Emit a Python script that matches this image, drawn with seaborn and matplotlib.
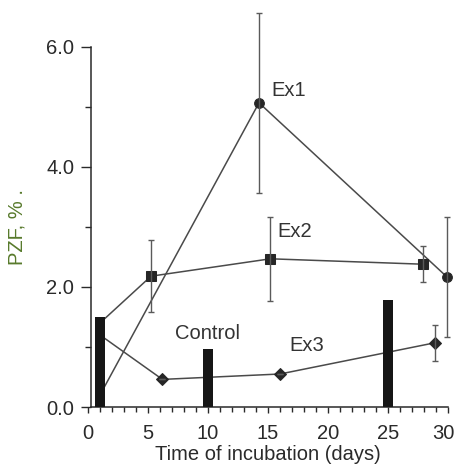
import numpy as np
import pandas as pd
import matplotlib
matplotlib.use("Agg")
import matplotlib.pyplot as plt
import matplotlib.transforms as mtransforms
from matplotlib.ticker import MultipleLocator
import seaborn as sns

# values
ex1_day = [1.0, 14.25, 29.9]
ex1_val = [0.2, 5.07, 2.17]
ex1_err = [0.0, 1.5, 1.0]

ex2_day = [1.0, 5.25, 15.2, 27.9]
ex2_val = [1.4, 2.18, 2.47, 2.38]
ex2_err = [0.0, 0.6, 0.7, 0.3]

ex3_day = [1.0, 6.2, 16.0, 28.9]
ex3_val = [1.2, 0.46, 0.55, 1.07]
ex3_err = [0.0, 0.0, 0.0, 0.3]

control_day = [1, 10, 25]
control_val = [1.5, 0.97, 1.78]

x_ticks = [0, 5, 10, 15, 20, 25, 30]
y_ticks = [0.0, 2.0, 4.0, 6.0]

sns.set_theme(style="ticks")
plt.rcParams['font.family'] = ['Liberation Sans', 'DejaVu Sans']

fig = plt.figure(figsize=(4.55, 4.69), dpi=100)
ax = fig.add_axes([88 / 455, 62 / 469, 360 / 455, 360 / 469])

line_col = '#4a4a4a'
series = [
    ('Ex1', ex1_day, ex1_val, ex1_err, 'o', 7.0),
    ('Ex2', ex2_day, ex2_val, ex2_err, 's', 7.5),
    ('Ex3', ex3_day, ex3_val, ex3_err, 'D', 6.5),
]
for name, d, v, e, mk, ms in series:
    df = pd.DataFrame({'day': d, 'pzf': v})
    # first point is hidden behind the day-1 control bar
    sns.lineplot(data=df, x='day', y='pzf', ax=ax, sort=False, estimator=None,
                 color=line_col, linewidth=1.1, marker=mk, markersize=ms,
                 markevery=list(range(1, len(d))),
                 markeredgecolor='#262626', markerfacecolor='#262626', clip_on=False)
    eb = ax.errorbar(d, v, yerr=e, fmt='none', ecolor='#5a5a5a', elinewidth=1.0,
                     capsize=2.5, capthick=1.0)
    for child in eb.get_children():
        child.set_clip_on(False)

sns.barplot(x=control_day, y=control_val, native_scale=True, width=0.1,
            color='#161616', saturation=1, errorbar=None, ax=ax)
for p in ax.patches:
    p.set_zorder(3)
    p.set_edgecolor('none')

ax.set_xlim(0, 30)
ax.set_ylim(0, 6)
ax.set_xticks(x_ticks)
ax.set_xticklabels([str(t) for t in x_ticks])
ax.xaxis.set_minor_locator(MultipleLocator(1))
ax.set_yticks(y_ticks)
ax.set_yticklabels(['%.1f' % t for t in y_ticks])
ax.yaxis.set_minor_locator(MultipleLocator(1))

sns.despine(ax=ax)
ax.spines['left'].set_position(('data', 0.25))
ax.spines['left'].set_bounds(0, 6)
ax.spines['bottom'].set_bounds(0.25, 30)
for s in ['left', 'bottom']:
    ax.spines[s].set_color('#2a2a2a')
    ax.spines[s].set_linewidth(1.1)

ax.tick_params(axis='y', which='major', length=7, width=1.0, pad=5,
               labelsize=14.5, colors='#2a2a2a')
ax.tick_params(axis='y', which='minor', length=4.5, width=1.0, colors='#2a2a2a')
ax.tick_params(axis='x', which='major', length=4, width=1.0, pad=8,
               labelsize=14.5, colors='#2a2a2a')
ax.tick_params(axis='x', which='minor', length=3.5, width=1.0, colors='#2a2a2a')

# last x label sits a little left of its tick in the reference
last = ax.get_xticklabels()[-1]
last.set_transform(last.get_transform() +
                   mtransforms.ScaledTranslation(-5 / 100, 0, fig.dpi_scale_trans))

ax.set_xlabel('Time of incubation (days)', fontsize=14.5, color='#2a2a2a', va='center')
ax.xaxis.set_label_coords(0.5, -0.133)
ax.set_ylabel('PZF, % .', fontsize=14.5, color='#587a2c', va='center')
ax.yaxis.set_label_coords(-0.197, 0.5)

txt = dict(fontsize=14.5, color='#333333', va='center', ha='left')
ax.text(15.25, 5.28, 'Ex1', **txt)
ax.text(15.75, 2.93, 'Ex2', **txt)
ax.text(7.25, 1.23, 'Control', **txt)
ax.text(16.8, 1.03, 'Ex3', **txt)

ax.grid(False)
fig.savefig('out.png', dpi=100, facecolor='white')
